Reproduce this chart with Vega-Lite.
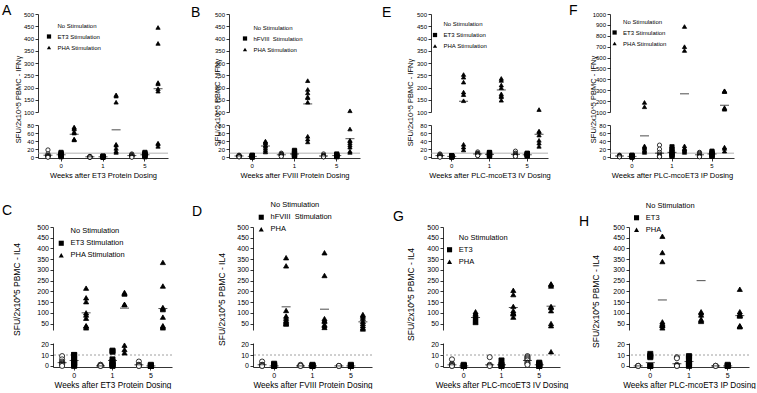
{
"$schema":"https://vega.github.io/schema/vega-lite/v6.json",
"padding":{"left":2,"top":4,"right":0,"bottom":0},
"config":{
 "font":"Liberation Sans",
 "view":{"stroke":null},
 "axis":{"domainColor":"black","domainWidth":0.8,"tickColor":"black","tickWidth":0.8,"tickSize":3,"labelColor":"black","labelFontSize":6,"labelPadding":1.5,"labelOverlap":false,"titleColor":"black","titleFontSize":7.5,"titleFontWeight":"normal","grid":false,"format":"d"},
 "axisX":{"labelAngle":0,"titlePadding":3},
 "legend":{"title":null,"padding":0,"labelFontSize":6,"labelColor":"black","symbolStrokeColor":"black","symbolStrokeWidth":0.8,"symbolSize":18,"rowPadding":3,"labelOffset":5.5},
 "title":{"fontSize":14,"fontWeight":"normal","anchor":"start","frame":"group","baseline":"top","offset":0,"color":"black"}
},
"datasets":{
"pts":[
{"p":"A","w":0,"g":"n","v":18},{"p":"A","w":0,"g":"n","v":8},{"p":"A","w":0,"g":"n","v":5},{"p":"A","w":0,"g":"n","v":4},{"p":"A","w":0,"g":"n","v":3},{"p":"A","w":0,"g":"n","v":2},{"p":"A","w":0,"g":"n","v":1},{"p":"A","w":0,"g":"n","v":0},
{"p":"A","w":0,"g":"a","v":12},{"p":"A","w":0,"g":"a","v":10},{"p":"A","w":0,"g":"a","v":8},{"p":"A","w":0,"g":"a","v":6},{"p":"A","w":0,"g":"a","v":5},{"p":"A","w":0,"g":"a","v":4},{"p":"A","w":0,"g":"a","v":2},{"p":"A","w":0,"g":"a","v":1},
{"p":"A","w":0,"g":"h","v":75},{"p":"A","w":0,"g":"h","v":72},{"p":"A","w":0,"g":"h","v":70},{"p":"A","w":0,"g":"h","v":63},{"p":"A","w":0,"g":"h","v":60},{"p":"A","w":0,"g":"h","v":45},{"p":"A","w":0,"g":"h","v":44},{"p":"A","w":0,"g":"h","v":43},
{"p":"A","w":1,"g":"n","v":2},{"p":"A","w":1,"g":"n","v":1},{"p":"A","w":1,"g":"n","v":1},{"p":"A","w":1,"g":"n","v":0},{"p":"A","w":1,"g":"n","v":0},{"p":"A","w":1,"g":"n","v":0},
{"p":"A","w":1,"g":"a","v":3},{"p":"A","w":1,"g":"a","v":2},{"p":"A","w":1,"g":"a","v":1},{"p":"A","w":1,"g":"a","v":1},{"p":"A","w":1,"g":"a","v":0},{"p":"A","w":1,"g":"a","v":0},
{"p":"A","w":1,"g":"h","v":170},{"p":"A","w":1,"g":"h","v":165},{"p":"A","w":1,"g":"h","v":140},{"p":"A","w":1,"g":"h","v":32},{"p":"A","w":1,"g":"h","v":30},{"p":"A","w":1,"g":"h","v":22},{"p":"A","w":1,"g":"h","v":15},{"p":"A","w":1,"g":"h","v":12},
{"p":"A","w":5,"g":"n","v":8},{"p":"A","w":5,"g":"n","v":6},{"p":"A","w":5,"g":"n","v":5},{"p":"A","w":5,"g":"n","v":4},{"p":"A","w":5,"g":"n","v":3},{"p":"A","w":5,"g":"n","v":2},{"p":"A","w":5,"g":"n","v":1},{"p":"A","w":5,"g":"n","v":0},
{"p":"A","w":5,"g":"a","v":12},{"p":"A","w":5,"g":"a","v":10},{"p":"A","w":5,"g":"a","v":8},{"p":"A","w":5,"g":"a","v":7},{"p":"A","w":5,"g":"a","v":5},{"p":"A","w":5,"g":"a","v":4},{"p":"A","w":5,"g":"a","v":3},{"p":"A","w":5,"g":"a","v":1},
{"p":"A","w":5,"g":"h","v":445},{"p":"A","w":5,"g":"h","v":380},{"p":"A","w":5,"g":"h","v":220},{"p":"A","w":5,"g":"h","v":215},{"p":"A","w":5,"g":"h","v":195},{"p":"A","w":5,"g":"h","v":185},{"p":"A","w":5,"g":"h","v":35},{"p":"A","w":5,"g":"h","v":33},{"p":"A","w":5,"g":"h","v":27},
{"p":"B","w":0,"g":"n","v":5},{"p":"B","w":0,"g":"n","v":4},{"p":"B","w":0,"g":"n","v":3},{"p":"B","w":0,"g":"n","v":3},{"p":"B","w":0,"g":"n","v":2},{"p":"B","w":0,"g":"n","v":2},{"p":"B","w":0,"g":"n","v":1},{"p":"B","w":0,"g":"n","v":1},
{"p":"B","w":0,"g":"a","v":5},{"p":"B","w":0,"g":"a","v":4},{"p":"B","w":0,"g":"a","v":3},{"p":"B","w":0,"g":"a","v":3},{"p":"B","w":0,"g":"a","v":2},{"p":"B","w":0,"g":"a","v":1},{"p":"B","w":0,"g":"a","v":1},{"p":"B","w":0,"g":"a","v":0},
{"p":"B","w":0,"g":"h","v":40},{"p":"B","w":0,"g":"h","v":38},{"p":"B","w":0,"g":"h","v":35},{"p":"B","w":0,"g":"h","v":30},{"p":"B","w":0,"g":"h","v":27},{"p":"B","w":0,"g":"h","v":22},{"p":"B","w":0,"g":"h","v":17},{"p":"B","w":0,"g":"h","v":13},
{"p":"B","w":1,"g":"n","v":10},{"p":"B","w":1,"g":"n","v":8},{"p":"B","w":1,"g":"n","v":7},{"p":"B","w":1,"g":"n","v":6},{"p":"B","w":1,"g":"n","v":5},{"p":"B","w":1,"g":"n","v":4},{"p":"B","w":1,"g":"n","v":3},{"p":"B","w":1,"g":"n","v":2},
{"p":"B","w":1,"g":"a","v":17},{"p":"B","w":1,"g":"a","v":15},{"p":"B","w":1,"g":"a","v":10},{"p":"B","w":1,"g":"a","v":8},{"p":"B","w":1,"g":"a","v":6},{"p":"B","w":1,"g":"a","v":5},{"p":"B","w":1,"g":"a","v":3},{"p":"B","w":1,"g":"a","v":2},
{"p":"B","w":1,"g":"h","v":228},{"p":"B","w":1,"g":"h","v":192},{"p":"B","w":1,"g":"h","v":178},{"p":"B","w":1,"g":"h","v":162},{"p":"B","w":1,"g":"h","v":158},{"p":"B","w":1,"g":"h","v":140},{"p":"B","w":1,"g":"h","v":52},{"p":"B","w":1,"g":"h","v":45},{"p":"B","w":1,"g":"h","v":38},
{"p":"B","w":5,"g":"n","v":8},{"p":"B","w":5,"g":"n","v":5},{"p":"B","w":5,"g":"n","v":4},{"p":"B","w":5,"g":"n","v":3},{"p":"B","w":5,"g":"n","v":2},{"p":"B","w":5,"g":"n","v":2},{"p":"B","w":5,"g":"n","v":1},{"p":"B","w":5,"g":"n","v":1},
{"p":"B","w":5,"g":"a","v":8},{"p":"B","w":5,"g":"a","v":6},{"p":"B","w":5,"g":"a","v":5},{"p":"B","w":5,"g":"a","v":4},{"p":"B","w":5,"g":"a","v":3},{"p":"B","w":5,"g":"a","v":2},{"p":"B","w":5,"g":"a","v":2},{"p":"B","w":5,"g":"a","v":1},
{"p":"B","w":5,"g":"h","v":105},{"p":"B","w":5,"g":"h","v":70},{"p":"B","w":5,"g":"h","v":42},{"p":"B","w":5,"g":"h","v":40},{"p":"B","w":5,"g":"h","v":35},{"p":"B","w":5,"g":"h","v":30},{"p":"B","w":5,"g":"h","v":25},{"p":"B","w":5,"g":"h","v":15},{"p":"B","w":5,"g":"h","v":12},
{"p":"E","w":0,"g":"n","v":8},{"p":"E","w":0,"g":"n","v":6},{"p":"E","w":0,"g":"n","v":5},{"p":"E","w":0,"g":"n","v":4},{"p":"E","w":0,"g":"n","v":3},{"p":"E","w":0,"g":"n","v":2},{"p":"E","w":0,"g":"n","v":1},{"p":"E","w":0,"g":"n","v":0},
{"p":"E","w":0,"g":"a","v":4},{"p":"E","w":0,"g":"a","v":3},{"p":"E","w":0,"g":"a","v":3},{"p":"E","w":0,"g":"a","v":2},{"p":"E","w":0,"g":"a","v":2},{"p":"E","w":0,"g":"a","v":1},{"p":"E","w":0,"g":"a","v":1},{"p":"E","w":0,"g":"a","v":0},
{"p":"E","w":0,"g":"h","v":253},{"p":"E","w":0,"g":"h","v":242},{"p":"E","w":0,"g":"h","v":222},{"p":"E","w":0,"g":"h","v":181},{"p":"E","w":0,"g":"h","v":171},{"p":"E","w":0,"g":"h","v":146},{"p":"E","w":0,"g":"h","v":32},{"p":"E","w":0,"g":"h","v":25},{"p":"E","w":0,"g":"h","v":18},
{"p":"E","w":1,"g":"n","v":13},{"p":"E","w":1,"g":"n","v":10},{"p":"E","w":1,"g":"n","v":9},{"p":"E","w":1,"g":"n","v":8},{"p":"E","w":1,"g":"n","v":7},{"p":"E","w":1,"g":"n","v":6},{"p":"E","w":1,"g":"n","v":5},{"p":"E","w":1,"g":"n","v":4},
{"p":"E","w":1,"g":"a","v":12},{"p":"E","w":1,"g":"a","v":11},{"p":"E","w":1,"g":"a","v":10},{"p":"E","w":1,"g":"a","v":8},{"p":"E","w":1,"g":"a","v":6},{"p":"E","w":1,"g":"a","v":5},{"p":"E","w":1,"g":"a","v":3},{"p":"E","w":1,"g":"a","v":2},
{"p":"E","w":1,"g":"h","v":237},{"p":"E","w":1,"g":"h","v":229},{"p":"E","w":1,"g":"h","v":210},{"p":"E","w":1,"g":"h","v":199},{"p":"E","w":1,"g":"h","v":174},{"p":"E","w":1,"g":"h","v":167},{"p":"E","w":1,"g":"h","v":162},{"p":"E","w":1,"g":"h","v":148},
{"p":"E","w":5,"g":"n","v":15},{"p":"E","w":5,"g":"n","v":10},{"p":"E","w":5,"g":"n","v":8},{"p":"E","w":5,"g":"n","v":6},{"p":"E","w":5,"g":"n","v":5},{"p":"E","w":5,"g":"n","v":4},{"p":"E","w":5,"g":"n","v":3},{"p":"E","w":5,"g":"n","v":2},
{"p":"E","w":5,"g":"a","v":10},{"p":"E","w":5,"g":"a","v":9},{"p":"E","w":5,"g":"a","v":8},{"p":"E","w":5,"g":"a","v":7},{"p":"E","w":5,"g":"a","v":6},{"p":"E","w":5,"g":"a","v":5},{"p":"E","w":5,"g":"a","v":4},{"p":"E","w":5,"g":"a","v":3},
{"p":"E","w":5,"g":"h","v":110},{"p":"E","w":5,"g":"h","v":65},{"p":"E","w":5,"g":"h","v":63},{"p":"E","w":5,"g":"h","v":55},{"p":"E","w":5,"g":"h","v":42},{"p":"E","w":5,"g":"h","v":35},{"p":"E","w":5,"g":"h","v":27},
{"p":"F","w":0,"g":"n","v":5},{"p":"F","w":0,"g":"n","v":4},{"p":"F","w":0,"g":"n","v":3},{"p":"F","w":0,"g":"n","v":3},{"p":"F","w":0,"g":"n","v":2},{"p":"F","w":0,"g":"n","v":2},{"p":"F","w":0,"g":"n","v":1},{"p":"F","w":0,"g":"n","v":1},
{"p":"F","w":0,"g":"a","v":5},{"p":"F","w":0,"g":"a","v":4},{"p":"F","w":0,"g":"a","v":3},{"p":"F","w":0,"g":"a","v":2},{"p":"F","w":0,"g":"a","v":2},{"p":"F","w":0,"g":"a","v":1},{"p":"F","w":0,"g":"a","v":1},{"p":"F","w":0,"g":"a","v":0},
{"p":"F","w":0,"g":"h","v":188},{"p":"F","w":0,"g":"h","v":148},{"p":"F","w":0,"g":"h","v":28},{"p":"F","w":0,"g":"h","v":25},{"p":"F","w":0,"g":"h","v":22},{"p":"F","w":0,"g":"h","v":18},{"p":"F","w":0,"g":"h","v":15},{"p":"F","w":0,"g":"h","v":12},
{"p":"F","w":1,"g":"n","v":30},{"p":"F","w":1,"g":"n","v":20},{"p":"F","w":1,"g":"n","v":12},{"p":"F","w":1,"g":"n","v":8},{"p":"F","w":1,"g":"n","v":5},{"p":"F","w":1,"g":"n","v":3},{"p":"F","w":1,"g":"n","v":2},{"p":"F","w":1,"g":"n","v":1},
{"p":"F","w":1,"g":"a","v":26},{"p":"F","w":1,"g":"a","v":20},{"p":"F","w":1,"g":"a","v":15},{"p":"F","w":1,"g":"a","v":12},{"p":"F","w":1,"g":"a","v":8},{"p":"F","w":1,"g":"a","v":6},{"p":"F","w":1,"g":"a","v":4},{"p":"F","w":1,"g":"a","v":2},
{"p":"F","w":1,"g":"h","v":885},{"p":"F","w":1,"g":"h","v":700},{"p":"F","w":1,"g":"h","v":665},{"p":"F","w":1,"g":"h","v":28},{"p":"F","w":1,"g":"h","v":22},{"p":"F","w":1,"g":"h","v":20},{"p":"F","w":1,"g":"h","v":18},{"p":"F","w":1,"g":"h","v":15},{"p":"F","w":1,"g":"h","v":12},
{"p":"F","w":5,"g":"n","v":12},{"p":"F","w":5,"g":"n","v":10},{"p":"F","w":5,"g":"n","v":8},{"p":"F","w":5,"g":"n","v":6},{"p":"F","w":5,"g":"n","v":4},{"p":"F","w":5,"g":"n","v":3},{"p":"F","w":5,"g":"n","v":2},{"p":"F","w":5,"g":"n","v":1},
{"p":"F","w":5,"g":"a","v":15},{"p":"F","w":5,"g":"a","v":12},{"p":"F","w":5,"g":"a","v":10},{"p":"F","w":5,"g":"a","v":8},{"p":"F","w":5,"g":"a","v":6},{"p":"F","w":5,"g":"a","v":4},{"p":"F","w":5,"g":"a","v":3},{"p":"F","w":5,"g":"a","v":2},
{"p":"F","w":5,"g":"h","v":295},{"p":"F","w":5,"g":"h","v":293},{"p":"F","w":5,"g":"h","v":290},{"p":"F","w":5,"g":"h","v":288},{"p":"F","w":5,"g":"h","v":140},{"p":"F","w":5,"g":"h","v":132},{"p":"F","w":5,"g":"h","v":125},{"p":"F","w":5,"g":"h","v":25},{"p":"F","w":5,"g":"h","v":22},{"p":"F","w":5,"g":"h","v":15},
{"p":"C","w":0,"g":"n","v":9},{"p":"C","w":0,"g":"n","v":6},{"p":"C","w":0,"g":"n","v":4},{"p":"C","w":0,"g":"n","v":3},{"p":"C","w":0,"g":"n","v":2},{"p":"C","w":0,"g":"n","v":2},{"p":"C","w":0,"g":"n","v":1},{"p":"C","w":0,"g":"n","v":0},
{"p":"C","w":0,"g":"a","v":10},{"p":"C","w":0,"g":"a","v":10},{"p":"C","w":0,"g":"a","v":6},{"p":"C","w":0,"g":"a","v":5},{"p":"C","w":0,"g":"a","v":3},{"p":"C","w":0,"g":"a","v":2},{"p":"C","w":0,"g":"a","v":1},{"p":"C","w":0,"g":"a","v":0},
{"p":"C","w":0,"g":"h","v":215},{"p":"C","w":0,"g":"h","v":170},{"p":"C","w":0,"g":"h","v":152},{"p":"C","w":0,"g":"h","v":100},{"p":"C","w":0,"g":"h","v":90},{"p":"C","w":0,"g":"h","v":75},{"p":"C","w":0,"g":"h","v":40},{"p":"C","w":0,"g":"h","v":38},{"p":"C","w":0,"g":"h","v":30},
{"p":"C","w":1,"g":"n","v":1},{"p":"C","w":1,"g":"n","v":1},{"p":"C","w":1,"g":"n","v":0},{"p":"C","w":1,"g":"n","v":0},{"p":"C","w":1,"g":"n","v":0},
{"p":"C","w":1,"g":"a","v":14},{"p":"C","w":1,"g":"a","v":13},{"p":"C","w":1,"g":"a","v":6},{"p":"C","w":1,"g":"a","v":4},{"p":"C","w":1,"g":"a","v":2},{"p":"C","w":1,"g":"a","v":1},{"p":"C","w":1,"g":"a","v":1},{"p":"C","w":1,"g":"a","v":0},
{"p":"C","w":1,"g":"h","v":195},{"p":"C","w":1,"g":"h","v":190},{"p":"C","w":1,"g":"h","v":188},{"p":"C","w":1,"g":"h","v":140},{"p":"C","w":1,"g":"h","v":138},{"p":"C","w":1,"g":"h","v":19},{"p":"C","w":1,"g":"h","v":15},{"p":"C","w":1,"g":"h","v":12},
{"p":"C","w":5,"g":"n","v":4},{"p":"C","w":5,"g":"n","v":1},{"p":"C","w":5,"g":"n","v":1},{"p":"C","w":5,"g":"n","v":0},{"p":"C","w":5,"g":"n","v":0},
{"p":"C","w":5,"g":"a","v":1},{"p":"C","w":5,"g":"a","v":0},{"p":"C","w":5,"g":"a","v":0},{"p":"C","w":5,"g":"a","v":0},
{"p":"C","w":5,"g":"h","v":335},{"p":"C","w":5,"g":"h","v":225},{"p":"C","w":5,"g":"h","v":125},{"p":"C","w":5,"g":"h","v":120},{"p":"C","w":5,"g":"h","v":115},{"p":"C","w":5,"g":"h","v":80},{"p":"C","w":5,"g":"h","v":40},{"p":"C","w":5,"g":"h","v":35},{"p":"C","w":5,"g":"h","v":30},
{"p":"D","w":0,"g":"n","v":4},{"p":"D","w":0,"g":"n","v":1},{"p":"D","w":0,"g":"n","v":1},{"p":"D","w":0,"g":"n","v":0},{"p":"D","w":0,"g":"n","v":0},
{"p":"D","w":0,"g":"a","v":2},{"p":"D","w":0,"g":"a","v":1},{"p":"D","w":0,"g":"a","v":0},{"p":"D","w":0,"g":"a","v":0},
{"p":"D","w":0,"g":"h","v":357},{"p":"D","w":0,"g":"h","v":319},{"p":"D","w":0,"g":"h","v":111},{"p":"D","w":0,"g":"h","v":85},{"p":"D","w":0,"g":"h","v":75},{"p":"D","w":0,"g":"h","v":65},{"p":"D","w":0,"g":"h","v":60},{"p":"D","w":0,"g":"h","v":55},{"p":"D","w":0,"g":"h","v":50},{"p":"D","w":0,"g":"h","v":48},
{"p":"D","w":1,"g":"n","v":1},{"p":"D","w":1,"g":"n","v":0},{"p":"D","w":1,"g":"n","v":0},{"p":"D","w":1,"g":"n","v":0},
{"p":"D","w":1,"g":"a","v":1},{"p":"D","w":1,"g":"a","v":0},{"p":"D","w":1,"g":"a","v":0},{"p":"D","w":1,"g":"a","v":0},
{"p":"D","w":1,"g":"h","v":380},{"p":"D","w":1,"g":"h","v":274},{"p":"D","w":1,"g":"h","v":73},{"p":"D","w":1,"g":"h","v":65},{"p":"D","w":1,"g":"h","v":60},{"p":"D","w":1,"g":"h","v":45},{"p":"D","w":1,"g":"h","v":40},{"p":"D","w":1,"g":"h","v":32},
{"p":"D","w":5,"g":"n","v":0},{"p":"D","w":5,"g":"n","v":0},{"p":"D","w":5,"g":"n","v":0},
{"p":"D","w":5,"g":"a","v":1},{"p":"D","w":5,"g":"a","v":0},{"p":"D","w":5,"g":"a","v":0},
{"p":"D","w":5,"g":"h","v":92},{"p":"D","w":5,"g":"h","v":85},{"p":"D","w":5,"g":"h","v":75},{"p":"D","w":5,"g":"h","v":60},{"p":"D","w":5,"g":"h","v":50},{"p":"D","w":5,"g":"h","v":40},{"p":"D","w":5,"g":"h","v":30},{"p":"D","w":5,"g":"h","v":25},
{"p":"G","w":0,"g":"n","v":6},{"p":"G","w":0,"g":"n","v":2},{"p":"G","w":0,"g":"n","v":1},{"p":"G","w":0,"g":"n","v":1},{"p":"G","w":0,"g":"n","v":0},{"p":"G","w":0,"g":"n","v":0},
{"p":"G","w":0,"g":"a","v":1},{"p":"G","w":0,"g":"a","v":0},{"p":"G","w":0,"g":"a","v":0},{"p":"G","w":0,"g":"a","v":0},
{"p":"G","w":0,"g":"h","v":105},{"p":"G","w":0,"g":"h","v":98},{"p":"G","w":0,"g":"h","v":92},{"p":"G","w":0,"g":"h","v":85},{"p":"G","w":0,"g":"h","v":80},{"p":"G","w":0,"g":"h","v":75},{"p":"G","w":0,"g":"h","v":70},{"p":"G","w":0,"g":"h","v":65},{"p":"G","w":0,"g":"h","v":60},{"p":"G","w":0,"g":"h","v":55},
{"p":"G","w":1,"g":"n","v":8},{"p":"G","w":1,"g":"n","v":1},{"p":"G","w":1,"g":"n","v":0},{"p":"G","w":1,"g":"n","v":0},
{"p":"G","w":1,"g":"a","v":5},{"p":"G","w":1,"g":"a","v":1},{"p":"G","w":1,"g":"a","v":0},{"p":"G","w":1,"g":"a","v":0},
{"p":"G","w":1,"g":"h","v":205},{"p":"G","w":1,"g":"h","v":185},{"p":"G","w":1,"g":"h","v":130},{"p":"G","w":1,"g":"h","v":110},{"p":"G","w":1,"g":"h","v":100},{"p":"G","w":1,"g":"h","v":98},{"p":"G","w":1,"g":"h","v":95},{"p":"G","w":1,"g":"h","v":80},
{"p":"G","w":5,"g":"n","v":9},{"p":"G","w":5,"g":"n","v":8},{"p":"G","w":5,"g":"n","v":7},{"p":"G","w":5,"g":"n","v":6},{"p":"G","w":5,"g":"n","v":5},{"p":"G","w":5,"g":"n","v":3},{"p":"G","w":5,"g":"n","v":2},{"p":"G","w":5,"g":"n","v":1},
{"p":"G","w":5,"g":"a","v":3},{"p":"G","w":5,"g":"a","v":2},{"p":"G","w":5,"g":"a","v":1},{"p":"G","w":5,"g":"a","v":1},{"p":"G","w":5,"g":"a","v":0},{"p":"G","w":5,"g":"a","v":0},
{"p":"G","w":5,"g":"h","v":235},{"p":"G","w":5,"g":"h","v":232},{"p":"G","w":5,"g":"h","v":225},{"p":"G","w":5,"g":"h","v":130},{"p":"G","w":5,"g":"h","v":125},{"p":"G","w":5,"g":"h","v":110},{"p":"G","w":5,"g":"h","v":50},{"p":"G","w":5,"g":"h","v":40},{"p":"G","w":5,"g":"h","v":13},
{"p":"H","w":0,"g":"n","v":0},{"p":"H","w":0,"g":"n","v":0},{"p":"H","w":0,"g":"n","v":0},
{"p":"H","w":0,"g":"a","v":11},{"p":"H","w":0,"g":"a","v":9},{"p":"H","w":0,"g":"a","v":8},{"p":"H","w":0,"g":"a","v":0},{"p":"H","w":0,"g":"a","v":0},
{"p":"H","w":0,"g":"h","v":457},{"p":"H","w":0,"g":"h","v":381},{"p":"H","w":0,"g":"h","v":339},{"p":"H","w":0,"g":"h","v":58},{"p":"H","w":0,"g":"h","v":50},{"p":"H","w":0,"g":"h","v":45},{"p":"H","w":0,"g":"h","v":42},{"p":"H","w":0,"g":"h","v":40},{"p":"H","w":0,"g":"h","v":30},
{"p":"H","w":1,"g":"n","v":8},{"p":"H","w":1,"g":"n","v":7},{"p":"H","w":1,"g":"n","v":1},{"p":"H","w":1,"g":"n","v":0},{"p":"H","w":1,"g":"n","v":0},
{"p":"H","w":1,"g":"a","v":9},{"p":"H","w":1,"g":"a","v":8},{"p":"H","w":1,"g":"a","v":7},{"p":"H","w":1,"g":"a","v":3},{"p":"H","w":1,"g":"a","v":2},{"p":"H","w":1,"g":"a","v":1},{"p":"H","w":1,"g":"a","v":0},
{"p":"H","w":1,"g":"h","v":105},{"p":"H","w":1,"g":"h","v":100},{"p":"H","w":1,"g":"h","v":90},{"p":"H","w":1,"g":"h","v":70},{"p":"H","w":1,"g":"h","v":65},{"p":"H","w":1,"g":"h","v":60},
{"p":"H","w":5,"g":"n","v":0},{"p":"H","w":5,"g":"n","v":0},{"p":"H","w":5,"g":"n","v":0},
{"p":"H","w":5,"g":"a","v":1},{"p":"H","w":5,"g":"a","v":0},{"p":"H","w":5,"g":"a","v":0},
{"p":"H","w":5,"g":"h","v":210},{"p":"H","w":5,"g":"h","v":105},{"p":"H","w":5,"g":"h","v":95},{"p":"H","w":5,"g":"h","v":90},{"p":"H","w":5,"g":"h","v":88},{"p":"H","w":5,"g":"h","v":85},{"p":"H","w":5,"g":"h","v":40},{"p":"H","w":5,"g":"h","v":38},{"p":"H","w":5,"g":"h","v":35}
],
"mean":[
{"p":"A","w":0,"g":"n","v":5},{"p":"A","w":0,"g":"a","v":6},{"p":"A","w":0,"g":"h","v":57},{"p":"A","w":1,"g":"n","v":1},{"p":"A","w":1,"g":"a","v":1},{"p":"A","w":1,"g":"h","v":68},{"p":"A","w":5,"g":"n","v":4},{"p":"A","w":5,"g":"a","v":6},{"p":"A","w":5,"g":"h","v":195},
{"p":"B","w":0,"g":"n","v":3},{"p":"B","w":0,"g":"a","v":2},{"p":"B","w":0,"g":"h","v":28},{"p":"B","w":1,"g":"n","v":6},{"p":"B","w":1,"g":"a","v":8},{"p":"B","w":1,"g":"h","v":133},{"p":"B","w":5,"g":"n","v":3},{"p":"B","w":5,"g":"a","v":4},{"p":"B","w":5,"g":"h","v":46},
{"p":"E","w":0,"g":"n","v":4},{"p":"E","w":0,"g":"a","v":2},{"p":"E","w":0,"g":"h","v":144},{"p":"E","w":1,"g":"n","v":8},{"p":"E","w":1,"g":"a","v":7},{"p":"E","w":1,"g":"h","v":190},{"p":"E","w":5,"g":"n","v":7},{"p":"E","w":5,"g":"a","v":6},{"p":"E","w":5,"g":"h","v":57},
{"p":"F","w":0,"g":"n","v":3},{"p":"F","w":0,"g":"a","v":2},{"p":"F","w":0,"g":"h","v":53},{"p":"F","w":1,"g":"n","v":10},{"p":"F","w":1,"g":"a","v":12},{"p":"F","w":1,"g":"h","v":267},{"p":"F","w":5,"g":"n","v":6},{"p":"F","w":5,"g":"a","v":8},{"p":"F","w":5,"g":"h","v":162},
{"p":"C","w":0,"g":"n","v":3},{"p":"C","w":0,"g":"a","v":5},{"p":"C","w":0,"g":"h","v":100},{"p":"C","w":1,"g":"n","v":0},{"p":"C","w":1,"g":"a","v":5},{"p":"C","w":1,"g":"h","v":122},{"p":"C","w":5,"g":"n","v":1},{"p":"C","w":5,"g":"a","v":0},{"p":"C","w":5,"g":"h","v":120},
{"p":"D","w":0,"g":"n","v":1},{"p":"D","w":0,"g":"a","v":0},{"p":"D","w":0,"g":"h","v":128},{"p":"D","w":1,"g":"n","v":0},{"p":"D","w":1,"g":"a","v":0},{"p":"D","w":1,"g":"h","v":117},{"p":"D","w":5,"g":"n","v":0},{"p":"D","w":5,"g":"a","v":0},{"p":"D","w":5,"g":"h","v":58},
{"p":"G","w":0,"g":"n","v":1},{"p":"G","w":0,"g":"a","v":0},{"p":"G","w":0,"g":"h","v":78},{"p":"G","w":1,"g":"n","v":1},{"p":"G","w":1,"g":"a","v":1},{"p":"G","w":1,"g":"h","v":125},{"p":"G","w":5,"g":"n","v":5},{"p":"G","w":5,"g":"a","v":1},{"p":"G","w":5,"g":"h","v":131},
{"p":"H","w":0,"g":"n","v":0},{"p":"H","w":0,"g":"a","v":3},{"p":"H","w":0,"g":"h","v":160},{"p":"H","w":1,"g":"n","v":2},{"p":"H","w":1,"g":"a","v":4},{"p":"H","w":1,"g":"h","v":250},{"p":"H","w":5,"g":"n","v":0},{"p":"H","w":5,"g":"a","v":0},{"p":"H","w":5,"g":"h","v":87}
]
},
"spacing":22,
"resolve":{"scale":{"shape":"independent","fill":"independent","xOffset":"independent"},"legend":{"shape":"independent","fill":"independent"}},
"vconcat":[
{"columns":8,"align":"each","bounds":"flush","spacing":{"row":13,"column":0},
"resolve":{"scale":{"shape":"independent","fill":"independent","xOffset":"independent"},"legend":{"shape":"independent","fill":"independent"}},
"concat":[
{"width":1,"height":98,"data":{"values":[]},"mark":"point"},
{"width":130,"height":98,"title":{"text":"A","dx":-36,"dy":11},"layer":[
 {"data":{"name":"pts"},"transform":[{"filter":"datum.p=='A'&&datum.v>=90"}],"mark":{"type":"point","filled":true,"stroke":"black","strokeWidth":0.8,"size":18,"opacity":1},
  "encoding":{"x":{"field":"w","type":"ordinal","scale":{"domain":[0,1,5],"paddingInner":0,"paddingOuter":0.05},"axis":null},
   "xOffset":{"field":"g","type":"nominal","scale":{"domain":["n","a","h"],"paddingOuter":0.1}},
   "y":{"field":"v","type":"quantitative","scale":{"domain":[100,500],"nice":false,"zero":false},"axis":{"values":[100,150,200,250,300,350,400,450,500],"labelOverlap":false,"title":"SFU/2x10^5 PBMC - IFNγ","titleX":-16,"titleY":85}},
   "shape":{"field":"g","type":"nominal","scale":{"domain":["n","a","h"],"range":["circle","square","triangle-up"]},"legend":{"orient":"none","legendX":8,"legendY":8.5,"labelExpr":"datum.label=='n'?'No Stimulation':datum.label=='a'?'ET3 Stimulation':'PHA Stimulation'"}},
   "fill":{"field":"g","type":"nominal","scale":{"domain":["n","a","h"],"range":["white","black","black"]},"legend":{"orient":"none","legendX":8,"legendY":8.5,"labelExpr":"datum.label=='n'?'No Stimulation':datum.label=='a'?'ET3 Stimulation':'PHA Stimulation'"}}}},
 {"data":{"name":"mean"},"transform":[{"filter":"datum.p=='A'&&datum.v>=90"}],"mark":{"type":"tick","color":"black","thickness":1,"size":9},
  "encoding":{"x":{"field":"w","type":"ordinal","scale":{"domain":[0,1,5],"paddingInner":0,"paddingOuter":0.05},"axis":null},"xOffset":{"field":"g","type":"nominal","scale":{"domain":["n","a","h"],"paddingOuter":0.1}},"y":{"field":"v","type":"quantitative","scale":{"domain":[100,500],"nice":false,"zero":false},"axis":{"values":[100,150,200,250,300,350,400,450,500],"labelOverlap":false,"title":"SFU/2x10^5 PBMC - IFNγ","titleX":-16,"titleY":85}}}}
]},
{"width":61,"height":98,"data":{"values":[]},"mark":"point"},
{"width":131,"height":98,"title":{"text":"B","dx":-38,"dy":13},"layer":[
 {"data":{"name":"pts"},"transform":[{"filter":"datum.p=='B'&&datum.v>=90"}],"mark":{"type":"point","filled":true,"stroke":"black","strokeWidth":0.8,"size":18,"opacity":1},
  "encoding":{"x":{"field":"w","type":"ordinal","scale":{"domain":[0,1,5],"paddingInner":0,"paddingOuter":0.05},"axis":null},
   "xOffset":{"field":"g","type":"nominal","scale":{"domain":["n","a","h"],"paddingOuter":0.1}},
   "y":{"field":"v","type":"quantitative","scale":{"domain":[100,500],"nice":false,"zero":false},"axis":{"values":[100,150,200,250,300,350,400,450,500],"labelOverlap":false,"title":"SFU/2x10^5 PBMC - IFNγ","titleX":-8,"titleY":88}},
   "shape":{"field":"g","type":"nominal","scale":{"domain":["n","a","h"],"range":["circle","square","triangle-up"]},"legend":{"orient":"none","legendX":13,"legendY":10.5,"labelExpr":"datum.label=='n'?'No Stimulation':datum.label=='a'?'hFVIII\u00a0 Stimulation':'PHA Stimulation'"}},
   "fill":{"field":"g","type":"nominal","scale":{"domain":["n","a","h"],"range":["white","black","black"]},"legend":{"orient":"none","legendX":13,"legendY":10.5,"labelExpr":"datum.label=='n'?'No Stimulation':datum.label=='a'?'hFVIII\u00a0 Stimulation':'PHA Stimulation'"}}}},
 {"data":{"name":"mean"},"transform":[{"filter":"datum.p=='B'&&datum.v>=90"}],"mark":{"type":"tick","color":"black","thickness":1,"size":9},
  "encoding":{"x":{"field":"w","type":"ordinal","scale":{"domain":[0,1,5],"paddingInner":0,"paddingOuter":0.05},"axis":null},"xOffset":{"field":"g","type":"nominal","scale":{"domain":["n","a","h"],"paddingOuter":0.1}},"y":{"field":"v","type":"quantitative","scale":{"domain":[100,500],"nice":false,"zero":false},"axis":{"values":[100,150,200,250,300,350,400,450,500],"labelOverlap":false,"title":"SFU/2x10^5 PBMC - IFNγ","titleX":-8,"titleY":88}}}}
]},
{"width":71,"height":98,"data":{"values":[]},"mark":"point"},
{"width":117,"height":98,"title":{"text":"E","dx":-49,"dy":13},"layer":[
 {"data":{"name":"pts"},"transform":[{"filter":"datum.p=='E'&&datum.v>=90"}],"mark":{"type":"point","filled":true,"stroke":"black","strokeWidth":0.8,"size":18,"opacity":1},
  "encoding":{"x":{"field":"w","type":"ordinal","scale":{"domain":[0,1,5],"paddingInner":0,"paddingOuter":0.05},"axis":null},
   "xOffset":{"field":"g","type":"nominal","scale":{"domain":["n","a","h"],"paddingOuter":0.1}},
   "y":{"field":"v","type":"quantitative","scale":{"domain":[100,500],"nice":false,"zero":false},"axis":{"values":[100,150,200,250,300,350,400,450,500],"labelOverlap":false,"title":"SFU/2x10^5 PBMC - IFNγ","titleX":-17,"titleY":88}},
   "shape":{"field":"g","type":"nominal","scale":{"domain":["n","a","h"],"range":["circle","square","triangle-up"]},"legend":{"orient":"none","legendX":1,"legendY":7,"labelExpr":"datum.label=='n'?'No Stimulation':datum.label=='a'?'ET3 Stimulation':'PHA Stimulation'"}},
   "fill":{"field":"g","type":"nominal","scale":{"domain":["n","a","h"],"range":["white","black","black"]},"legend":{"orient":"none","legendX":1,"legendY":7,"labelExpr":"datum.label=='n'?'No Stimulation':datum.label=='a'?'ET3 Stimulation':'PHA Stimulation'"}}}},
 {"data":{"name":"mean"},"transform":[{"filter":"datum.p=='E'&&datum.v>=90"}],"mark":{"type":"tick","color":"black","thickness":1,"size":9},
  "encoding":{"x":{"field":"w","type":"ordinal","scale":{"domain":[0,1,5],"paddingInner":0,"paddingOuter":0.05},"axis":null},"xOffset":{"field":"g","type":"nominal","scale":{"domain":["n","a","h"],"paddingOuter":0.1}},"y":{"field":"v","type":"quantitative","scale":{"domain":[100,500],"nice":false,"zero":false},"axis":{"values":[100,150,200,250,300,350,400,450,500],"labelOverlap":false,"title":"SFU/2x10^5 PBMC - IFNγ","titleX":-17,"titleY":88}}}}
]},
{"width":62,"height":98,"data":{"values":[]},"mark":"point"},
{"width":124,"height":98,"title":{"text":"F","dx":-41,"dy":11},"layer":[
 {"data":{"name":"pts"},"transform":[{"filter":"datum.p=='F'&&datum.v>=90"}],"mark":{"type":"point","filled":true,"stroke":"black","strokeWidth":0.8,"size":18,"opacity":1},
  "encoding":{"x":{"field":"w","type":"ordinal","scale":{"domain":[0,1,5],"paddingInner":0,"paddingOuter":0.05},"axis":null},
   "xOffset":{"field":"g","type":"nominal","scale":{"domain":["n","a","h"],"paddingOuter":0.1}},
   "y":{"field":"v","type":"quantitative","scale":{"domain":[100,1000],"nice":false,"zero":false},"axis":{"values":[100,200,300,400,500,600,700,800,900,1000],"labelOverlap":false,"format":"d","title":"SFU/2x10^5 PBMC - IFNγ","titleX":-13,"titleY":85}},
   "shape":{"field":"g","type":"nominal","scale":{"domain":["n","a","h"],"range":["circle","square","triangle-up"]},"legend":{"orient":"none","legendX":1.6,"legendY":4.5,"labelExpr":"datum.label=='n'?'No Stimulation':datum.label=='a'?'ET3 Stimulation':'PHA Stimulation'"}},
   "fill":{"field":"g","type":"nominal","scale":{"domain":["n","a","h"],"range":["white","black","black"]},"legend":{"orient":"none","legendX":1.6,"legendY":4.5,"labelExpr":"datum.label=='n'?'No Stimulation':datum.label=='a'?'ET3 Stimulation':'PHA Stimulation'"}}}},
 {"data":{"name":"mean"},"transform":[{"filter":"datum.p=='F'&&datum.v>=90"}],"mark":{"type":"tick","color":"black","thickness":1,"size":9},
  "encoding":{"x":{"field":"w","type":"ordinal","scale":{"domain":[0,1,5],"paddingInner":0,"paddingOuter":0.05},"axis":null},"xOffset":{"field":"g","type":"nominal","scale":{"domain":["n","a","h"],"paddingOuter":0.1}},"y":{"field":"v","type":"quantitative","scale":{"domain":[100,1000],"nice":false,"zero":false},"axis":{"values":[100,200,300,400,500,600,700,800,900,1000],"labelOverlap":false,"format":"d","title":"SFU/2x10^5 PBMC - IFNγ","titleX":-13,"titleY":85}}}}
]},
{"width":1,"height":33,"data":{"values":[]},"mark":"point"},
{"width":130,"height":33,"layer":[
 {"data":{"values":[{}]},"mark":{"type":"rule","color":"#a0a0a0","strokeWidth":0.8},"encoding":{"y":{"datum":10,"type":"quantitative","scale":{"domain":[-2,80],"nice":false,"zero":false},"axis":{"values":[0,20,40,60,80],"labelOverlap":false,"title":null}}}},
 {"data":{"name":"pts"},"transform":[{"filter":"datum.p=='A'&&datum.v<=85"}],"mark":{"type":"point","filled":true,"stroke":"black","strokeWidth":0.8,"size":18,"opacity":1},
  "encoding":{"x":{"field":"w","type":"ordinal","scale":{"domain":[0,1,5],"paddingInner":0,"paddingOuter":0.05},"axis":{"title":"Weeks after ET3 Protein Dosing"}},
   "xOffset":{"field":"g","type":"nominal","scale":{"domain":["n","a","h"],"paddingOuter":0.1}},
   "y":{"field":"v","type":"quantitative","scale":{"domain":[-2,80],"nice":false,"zero":false},"axis":{"values":[0,20,40,60,80],"labelOverlap":false,"title":null}},
   "shape":{"field":"g","type":"nominal","scale":{"domain":["n","a","h"],"range":["circle","square","triangle-up"]},"legend":null},
   "fill":{"field":"g","type":"nominal","scale":{"domain":["n","a","h"],"range":["white","black","black"]},"legend":null}}},
 {"data":{"name":"mean"},"transform":[{"filter":"datum.p=='A'&&datum.v<=85"}],"mark":{"type":"tick","color":"black","thickness":1,"size":9},
  "encoding":{"x":{"field":"w","type":"ordinal","scale":{"domain":[0,1,5],"paddingInner":0,"paddingOuter":0.05},"axis":{"title":"Weeks after ET3 Protein Dosing"}},"xOffset":{"field":"g","type":"nominal","scale":{"domain":["n","a","h"],"paddingOuter":0.1}},"y":{"field":"v","type":"quantitative","scale":{"domain":[-2,80],"nice":false,"zero":false},"axis":{"values":[0,20,40,60,80],"labelOverlap":false,"title":null}}}}
]},
{"width":61,"height":33,"data":{"values":[]},"mark":"point"},
{"width":131,"height":33,"layer":[
 {"data":{"values":[{}]},"mark":{"type":"rule","color":"#a0a0a0","strokeWidth":0.8},"encoding":{"y":{"datum":10,"type":"quantitative","scale":{"domain":[-2,80],"nice":false,"zero":false},"axis":{"values":[0,20,40,60,80],"labelOverlap":false,"title":null}}}},
 {"data":{"name":"pts"},"transform":[{"filter":"datum.p=='B'&&datum.v<=85"}],"mark":{"type":"point","filled":true,"stroke":"black","strokeWidth":0.8,"size":18,"opacity":1},
  "encoding":{"x":{"field":"w","type":"ordinal","scale":{"domain":[0,1,5],"paddingInner":0,"paddingOuter":0.05},"axis":{"title":"Weeks after FVIII Protein Dosing"}},
   "xOffset":{"field":"g","type":"nominal","scale":{"domain":["n","a","h"],"paddingOuter":0.1}},
   "y":{"field":"v","type":"quantitative","scale":{"domain":[-2,80],"nice":false,"zero":false},"axis":{"values":[0,20,40,60,80],"labelOverlap":false,"title":null}},
   "shape":{"field":"g","type":"nominal","scale":{"domain":["n","a","h"],"range":["circle","square","triangle-up"]},"legend":null},
   "fill":{"field":"g","type":"nominal","scale":{"domain":["n","a","h"],"range":["white","black","black"]},"legend":null}}},
 {"data":{"name":"mean"},"transform":[{"filter":"datum.p=='B'&&datum.v<=85"}],"mark":{"type":"tick","color":"black","thickness":1,"size":9},
  "encoding":{"x":{"field":"w","type":"ordinal","scale":{"domain":[0,1,5],"paddingInner":0,"paddingOuter":0.05},"axis":{"title":"Weeks after FVIII Protein Dosing"}},"xOffset":{"field":"g","type":"nominal","scale":{"domain":["n","a","h"],"paddingOuter":0.1}},"y":{"field":"v","type":"quantitative","scale":{"domain":[-2,80],"nice":false,"zero":false},"axis":{"values":[0,20,40,60,80],"labelOverlap":false,"title":null}}}}
]},
{"width":71,"height":33,"data":{"values":[]},"mark":"point"},
{"width":117,"height":33,"layer":[
 {"data":{"values":[{}]},"mark":{"type":"rule","color":"#a0a0a0","strokeWidth":0.8},"encoding":{"y":{"datum":10,"type":"quantitative","scale":{"domain":[-2,80],"nice":false,"zero":false},"axis":{"values":[0,20,40,60,80],"labelOverlap":false,"title":null}}}},
 {"data":{"name":"pts"},"transform":[{"filter":"datum.p=='E'&&datum.v<=85"}],"mark":{"type":"point","filled":true,"stroke":"black","strokeWidth":0.8,"size":18,"opacity":1},
  "encoding":{"x":{"field":"w","type":"ordinal","scale":{"domain":[0,1,5],"paddingInner":0,"paddingOuter":0.05},"axis":{"title":"Weeks after PLC-mcoET3 IV Dosing"}},
   "xOffset":{"field":"g","type":"nominal","scale":{"domain":["n","a","h"],"paddingOuter":0.1}},
   "y":{"field":"v","type":"quantitative","scale":{"domain":[-2,80],"nice":false,"zero":false},"axis":{"values":[0,20,40,60,80],"labelOverlap":false,"title":null}},
   "shape":{"field":"g","type":"nominal","scale":{"domain":["n","a","h"],"range":["circle","square","triangle-up"]},"legend":null},
   "fill":{"field":"g","type":"nominal","scale":{"domain":["n","a","h"],"range":["white","black","black"]},"legend":null}}},
 {"data":{"name":"mean"},"transform":[{"filter":"datum.p=='E'&&datum.v<=85"}],"mark":{"type":"tick","color":"black","thickness":1,"size":9},
  "encoding":{"x":{"field":"w","type":"ordinal","scale":{"domain":[0,1,5],"paddingInner":0,"paddingOuter":0.05},"axis":{"title":"Weeks after PLC-mcoET3 IV Dosing"}},"xOffset":{"field":"g","type":"nominal","scale":{"domain":["n","a","h"],"paddingOuter":0.1}},"y":{"field":"v","type":"quantitative","scale":{"domain":[-2,80],"nice":false,"zero":false},"axis":{"values":[0,20,40,60,80],"labelOverlap":false,"title":null}}}}
]},
{"width":62,"height":33,"data":{"values":[]},"mark":"point"},
{"width":124,"height":33,"layer":[
 {"data":{"values":[{}]},"mark":{"type":"rule","color":"#a0a0a0","strokeWidth":0.8},"encoding":{"y":{"datum":10,"type":"quantitative","scale":{"domain":[-2,80],"nice":false,"zero":false},"axis":{"values":[0,20,40,60,80],"labelOverlap":false,"title":null}}}},
 {"data":{"name":"pts"},"transform":[{"filter":"datum.p=='F'&&datum.v<=85"}],"mark":{"type":"point","filled":true,"stroke":"black","strokeWidth":0.8,"size":18,"opacity":1},
  "encoding":{"x":{"field":"w","type":"ordinal","scale":{"domain":[0,1,5],"paddingInner":0,"paddingOuter":0.05},"axis":{"title":"Weeks after PLC-mcoET3 IP Dosing"}},
   "xOffset":{"field":"g","type":"nominal","scale":{"domain":["n","a","h"],"paddingOuter":0.1}},
   "y":{"field":"v","type":"quantitative","scale":{"domain":[-2,80],"nice":false,"zero":false},"axis":{"values":[0,20,40,60,80],"labelOverlap":false,"title":null}},
   "shape":{"field":"g","type":"nominal","scale":{"domain":["n","a","h"],"range":["circle","square","triangle-up"]},"legend":null},
   "fill":{"field":"g","type":"nominal","scale":{"domain":["n","a","h"],"range":["white","black","black"]},"legend":null}}},
 {"data":{"name":"mean"},"transform":[{"filter":"datum.p=='F'&&datum.v<=85"}],"mark":{"type":"tick","color":"black","thickness":1,"size":9},
  "encoding":{"x":{"field":"w","type":"ordinal","scale":{"domain":[0,1,5],"paddingInner":0,"paddingOuter":0.05},"axis":{"title":"Weeks after PLC-mcoET3 IP Dosing"}},"xOffset":{"field":"g","type":"nominal","scale":{"domain":["n","a","h"],"paddingOuter":0.1}},"y":{"field":"v","type":"quantitative","scale":{"domain":[-2,80],"nice":false,"zero":false},"axis":{"values":[0,20,40,60,80],"labelOverlap":false,"title":null}}}}
]}
]},
{"columns":8,"align":"each","bounds":"flush","spacing":{"row":13,"column":0},
"resolve":{"scale":{"shape":"independent","fill":"independent","xOffset":"independent"},"legend":{"shape":"independent","fill":"independent"}},
"concat":[
{"width":16,"height":103,"data":{"values":[]},"mark":"point"},
{"width":119,"height":103,"title":{"text":"C","dx":-51,"dy":-1},"layer":[
 {"data":{"name":"pts"},"transform":[{"filter":"datum.p=='C'&&datum.v>=22"}],"mark":{"type":"point","filled":true,"stroke":"black","strokeWidth":0.8,"size":26,"opacity":1},
  "encoding":{"x":{"field":"w","type":"ordinal","scale":{"domain":[0,1,5],"paddingInner":0,"paddingOuter":0.05},"axis":null},
   "xOffset":{"field":"g","type":"nominal","scale":{"domain":["n","a","h"],"paddingOuter":0.1}},
   "y":{"field":"v","type":"quantitative","scale":{"domain":[20,500],"nice":false,"zero":false},"axis":{"values":[50,100,150,200,250,300,350,400,450,500],"labelOverlap":false,"labelFontSize":7,"titleFontSize":8.5,"title":"SFU/2x10^5 PBMC - IL4","titleX":-32,"titleY":62}},
   "shape":{"field":"g","type":"nominal","scale":{"domain":["n","a","h"],"range":["circle","square","triangle-up"]},"legend":{"orient":"none","legendX":4.5,"legendY":0.5,"labelFontSize":7.5,"symbolSize":26,"labelExpr":"datum.label=='n'?'No Stimulation':datum.label=='a'?'ET3 Stimulation':'PHA Stimulation'"}},
   "fill":{"field":"g","type":"nominal","scale":{"domain":["n","a","h"],"range":["white","black","black"]},"legend":{"orient":"none","legendX":4.5,"legendY":0.5,"labelFontSize":7.5,"symbolSize":26,"labelExpr":"datum.label=='n'?'No Stimulation':datum.label=='a'?'ET3 Stimulation':'PHA Stimulation'"}}}},
 {"data":{"name":"mean"},"transform":[{"filter":"datum.p=='C'&&datum.v>=22"}],"mark":{"type":"tick","color":"black","thickness":1,"size":9},
  "encoding":{"x":{"field":"w","type":"ordinal","scale":{"domain":[0,1,5],"paddingInner":0,"paddingOuter":0.05},"axis":null},"xOffset":{"field":"g","type":"nominal","scale":{"domain":["n","a","h"],"paddingOuter":0.1}},"y":{"field":"v","type":"quantitative","scale":{"domain":[20,500],"nice":false,"zero":false},"axis":{"values":[50,100,150,200,250,300,350,400,450,500],"labelOverlap":false,"labelFontSize":7,"titleFontSize":8.5,"title":"SFU/2x10^5 PBMC - IL4","titleX":-32,"titleY":62}}}}
]},
{"width":81,"height":103,"data":{"values":[]},"mark":"point"},
{"width":119,"height":103,"title":{"text":"D","dx":-61,"dy":21},"layer":[
 {"data":{"name":"pts"},"transform":[{"filter":"datum.p=='D'&&datum.v>=22"}],"mark":{"type":"point","filled":true,"stroke":"black","strokeWidth":0.8,"size":26,"opacity":1},
  "encoding":{"x":{"field":"w","type":"ordinal","scale":{"domain":[0,1,5],"paddingInner":0,"paddingOuter":0.05},"axis":null},
   "xOffset":{"field":"g","type":"nominal","scale":{"domain":["n","a","h"],"paddingOuter":0.1}},
   "y":{"field":"v","type":"quantitative","scale":{"domain":[20,500],"nice":false,"zero":false},"axis":{"values":[50,100,150,200,250,300,350,400,450,500],"labelOverlap":false,"labelFontSize":7,"titleFontSize":8.5,"title":"SFU/2x10^5 PBMC - IL4","titleX":-27,"titleY":72}},
   "shape":{"field":"g","type":"nominal","scale":{"domain":["n","a","h"],"range":["circle","square","triangle-up"]},"legend":{"orient":"none","legendX":4.5,"legendY":-25.5,"labelFontSize":7.5,"symbolSize":26,"labelExpr":"datum.label=='n'?'No Stimulation':datum.label=='a'?'hFVIII\u00a0 Stimulation':'PHA'"}},
   "fill":{"field":"g","type":"nominal","scale":{"domain":["n","a","h"],"range":["white","black","black"]},"legend":{"orient":"none","legendX":4.5,"legendY":-25.5,"labelFontSize":7.5,"symbolSize":26,"labelExpr":"datum.label=='n'?'No Stimulation':datum.label=='a'?'hFVIII\u00a0 Stimulation':'PHA'"}}}},
 {"data":{"name":"mean"},"transform":[{"filter":"datum.p=='D'&&datum.v>=22"}],"mark":{"type":"tick","color":"black","thickness":1,"size":9},
  "encoding":{"x":{"field":"w","type":"ordinal","scale":{"domain":[0,1,5],"paddingInner":0,"paddingOuter":0.05},"axis":null},"xOffset":{"field":"g","type":"nominal","scale":{"domain":["n","a","h"],"paddingOuter":0.1}},"y":{"field":"v","type":"quantitative","scale":{"domain":[20,500],"nice":false,"zero":false},"axis":{"values":[50,100,150,200,250,300,350,400,450,500],"labelOverlap":false,"labelFontSize":7,"titleFontSize":8.5,"title":"SFU/2x10^5 PBMC - IL4","titleX":-27,"titleY":72}}}}
]},
{"width":71,"height":103,"data":{"values":[]},"mark":"point"},
{"width":117,"height":103,"title":{"text":"G","dx":-50,"dy":5},"layer":[
 {"data":{"name":"pts"},"transform":[{"filter":"datum.p=='G'&&datum.v>=22"}],"mark":{"type":"point","filled":true,"stroke":"black","strokeWidth":0.8,"size":26,"opacity":1},
  "encoding":{"x":{"field":"w","type":"ordinal","scale":{"domain":[0,1,5],"paddingInner":0,"paddingOuter":0.05},"axis":null},
   "xOffset":{"field":"g","type":"nominal","scale":{"domain":["n","a","h"],"paddingOuter":0.1}},
   "y":{"field":"v","type":"quantitative","scale":{"domain":[20,500],"nice":false,"zero":false},"axis":{"values":[50,100,150,200,250,300,350,400,450,500],"labelOverlap":false,"labelFontSize":7,"titleFontSize":8.5,"title":"SFU/2x10^5 PBMC - IL4","titleX":-28,"titleY":67}},
   "shape":{"field":"g","type":"nominal","scale":{"domain":["n","a","h"],"range":["circle","square","triangle-up"]},"legend":{"orient":"none","legendX":2.8,"legendY":7,"labelFontSize":7.5,"symbolSize":26,"labelExpr":"datum.label=='n'?'No Stimulation':datum.label=='a'?'ET3':'PHA'"}},
   "fill":{"field":"g","type":"nominal","scale":{"domain":["n","a","h"],"range":["white","black","black"]},"legend":{"orient":"none","legendX":2.8,"legendY":7,"labelFontSize":7.5,"symbolSize":26,"labelExpr":"datum.label=='n'?'No Stimulation':datum.label=='a'?'ET3':'PHA'"}}}},
 {"data":{"name":"mean"},"transform":[{"filter":"datum.p=='G'&&datum.v>=22"}],"mark":{"type":"tick","color":"black","thickness":1,"size":9},
  "encoding":{"x":{"field":"w","type":"ordinal","scale":{"domain":[0,1,5],"paddingInner":0,"paddingOuter":0.05},"axis":null},"xOffset":{"field":"g","type":"nominal","scale":{"domain":["n","a","h"],"paddingOuter":0.1}},"y":{"field":"v","type":"quantitative","scale":{"domain":[20,500],"nice":false,"zero":false},"axis":{"values":[50,100,150,200,250,300,350,400,450,500],"labelOverlap":false,"labelFontSize":7,"titleFontSize":8.5,"title":"SFU/2x10^5 PBMC - IL4","titleX":-28,"titleY":67}}}}
]},
{"width":69,"height":103,"data":{"values":[]},"mark":"point"},
{"width":120,"height":103,"title":{"text":"H","dx":-50,"dy":31},"layer":[
 {"data":{"name":"pts"},"transform":[{"filter":"datum.p=='H'&&datum.v>=22"}],"mark":{"type":"point","filled":true,"stroke":"black","strokeWidth":0.8,"size":26,"opacity":1},
  "encoding":{"x":{"field":"w","type":"ordinal","scale":{"domain":[0,1,5],"paddingInner":0,"paddingOuter":0.05},"axis":null},
   "xOffset":{"field":"g","type":"nominal","scale":{"domain":["n","a","h"],"paddingOuter":0.1}},
   "y":{"field":"v","type":"quantitative","scale":{"domain":[20,500],"nice":false,"zero":false},"axis":{"values":[50,100,150,200,250,300,350,400,450,500],"labelOverlap":false,"labelFontSize":7,"titleFontSize":8.5,"title":"SFU/2x10^5 PBMC - IL4","titleX":-29,"titleY":74}},
   "shape":{"field":"g","type":"nominal","scale":{"domain":["n","a","h"],"range":["circle","square","triangle-up"]},"legend":{"orient":"none","legendX":3.8,"legendY":-25,"labelFontSize":7.5,"symbolSize":26,"labelExpr":"datum.label=='n'?'No Stimulation':datum.label=='a'?'ET3':'PHA'"}},
   "fill":{"field":"g","type":"nominal","scale":{"domain":["n","a","h"],"range":["white","black","black"]},"legend":{"orient":"none","legendX":3.8,"legendY":-25,"labelFontSize":7.5,"symbolSize":26,"labelExpr":"datum.label=='n'?'No Stimulation':datum.label=='a'?'ET3':'PHA'"}}}},
 {"data":{"name":"mean"},"transform":[{"filter":"datum.p=='H'&&datum.v>=22"}],"mark":{"type":"tick","color":"black","thickness":1,"size":9},
  "encoding":{"x":{"field":"w","type":"ordinal","scale":{"domain":[0,1,5],"paddingInner":0,"paddingOuter":0.05},"axis":null},"xOffset":{"field":"g","type":"nominal","scale":{"domain":["n","a","h"],"paddingOuter":0.1}},"y":{"field":"v","type":"quantitative","scale":{"domain":[20,500],"nice":false,"zero":false},"axis":{"values":[50,100,150,200,250,300,350,400,450,500],"labelOverlap":false,"labelFontSize":7,"titleFontSize":8.5,"title":"SFU/2x10^5 PBMC - IL4","titleX":-29,"titleY":74}}}}
]},
{"width":16,"height":24,"data":{"values":[]},"mark":"point"},
{"width":119,"height":24,"layer":[
 {"data":{"values":[{}]},"mark":{"type":"rule","color":"#888888","strokeWidth":0.8,"strokeDash":[2,2]},"encoding":{"y":{"datum":10,"type":"quantitative","scale":{"domain":[-1,21],"nice":false,"zero":false},"axis":{"values":[0,10,20],"labelOverlap":false,"labelFontSize":7,"title":null}}}},
 {"data":{"name":"pts"},"transform":[{"filter":"datum.p=='C'&&datum.v<=21"}],"mark":{"type":"point","filled":true,"stroke":"black","strokeWidth":0.8,"size":26,"opacity":1},
  "encoding":{"x":{"field":"w","type":"ordinal","scale":{"domain":[0,1,5],"paddingInner":0,"paddingOuter":0.05},"axis":{"title":"Weeks after ET3 Protein Dosing","labelFontSize":7,"titleFontSize":8.2}},
   "xOffset":{"field":"g","type":"nominal","scale":{"domain":["n","a","h"],"paddingOuter":0.1}},
   "y":{"field":"v","type":"quantitative","scale":{"domain":[-1,21],"nice":false,"zero":false},"axis":{"values":[0,10,20],"labelOverlap":false,"labelFontSize":7,"title":null}},
   "shape":{"field":"g","type":"nominal","scale":{"domain":["n","a","h"],"range":["circle","square","triangle-up"]},"legend":null},
   "fill":{"field":"g","type":"nominal","scale":{"domain":["n","a","h"],"range":["white","black","black"]},"legend":null}}},
 {"data":{"name":"mean"},"transform":[{"filter":"datum.p=='C'&&datum.v<=21"}],"mark":{"type":"tick","color":"black","thickness":1,"size":9},
  "encoding":{"x":{"field":"w","type":"ordinal","scale":{"domain":[0,1,5],"paddingInner":0,"paddingOuter":0.05},"axis":{"title":"Weeks after ET3 Protein Dosing","labelFontSize":7,"titleFontSize":8.2}},"xOffset":{"field":"g","type":"nominal","scale":{"domain":["n","a","h"],"paddingOuter":0.1}},"y":{"field":"v","type":"quantitative","scale":{"domain":[-1,21],"nice":false,"zero":false},"axis":{"values":[0,10,20],"labelOverlap":false,"labelFontSize":7,"title":null}}}}
]},
{"width":81,"height":24,"data":{"values":[]},"mark":"point"},
{"width":119,"height":24,"layer":[
 {"data":{"values":[{}]},"mark":{"type":"rule","color":"#888888","strokeWidth":0.8,"strokeDash":[2,2]},"encoding":{"y":{"datum":10,"type":"quantitative","scale":{"domain":[-1,21],"nice":false,"zero":false},"axis":{"values":[0,10,20],"labelOverlap":false,"labelFontSize":7,"title":null}}}},
 {"data":{"name":"pts"},"transform":[{"filter":"datum.p=='D'&&datum.v<=21"}],"mark":{"type":"point","filled":true,"stroke":"black","strokeWidth":0.8,"size":26,"opacity":1},
  "encoding":{"x":{"field":"w","type":"ordinal","scale":{"domain":[0,1,5],"paddingInner":0,"paddingOuter":0.05},"axis":{"title":"Weeks after FVIII Protein Dosing","labelFontSize":7,"titleFontSize":8.2}},
   "xOffset":{"field":"g","type":"nominal","scale":{"domain":["n","a","h"],"paddingOuter":0.1}},
   "y":{"field":"v","type":"quantitative","scale":{"domain":[-1,21],"nice":false,"zero":false},"axis":{"values":[0,10,20],"labelOverlap":false,"labelFontSize":7,"title":null}},
   "shape":{"field":"g","type":"nominal","scale":{"domain":["n","a","h"],"range":["circle","square","triangle-up"]},"legend":null},
   "fill":{"field":"g","type":"nominal","scale":{"domain":["n","a","h"],"range":["white","black","black"]},"legend":null}}},
 {"data":{"name":"mean"},"transform":[{"filter":"datum.p=='D'&&datum.v<=21"}],"mark":{"type":"tick","color":"black","thickness":1,"size":9},
  "encoding":{"x":{"field":"w","type":"ordinal","scale":{"domain":[0,1,5],"paddingInner":0,"paddingOuter":0.05},"axis":{"title":"Weeks after FVIII Protein Dosing","labelFontSize":7,"titleFontSize":8.2}},"xOffset":{"field":"g","type":"nominal","scale":{"domain":["n","a","h"],"paddingOuter":0.1}},"y":{"field":"v","type":"quantitative","scale":{"domain":[-1,21],"nice":false,"zero":false},"axis":{"values":[0,10,20],"labelOverlap":false,"labelFontSize":7,"title":null}}}}
]},
{"width":71,"height":24,"data":{"values":[]},"mark":"point"},
{"width":117,"height":24,"layer":[
 {"data":{"values":[{}]},"mark":{"type":"rule","color":"#888888","strokeWidth":0.8,"strokeDash":[2,2]},"encoding":{"y":{"datum":10,"type":"quantitative","scale":{"domain":[-1,21],"nice":false,"zero":false},"axis":{"values":[0,10,20],"labelOverlap":false,"labelFontSize":7,"title":null}}}},
 {"data":{"name":"pts"},"transform":[{"filter":"datum.p=='G'&&datum.v<=21"}],"mark":{"type":"point","filled":true,"stroke":"black","strokeWidth":0.8,"size":26,"opacity":1},
  "encoding":{"x":{"field":"w","type":"ordinal","scale":{"domain":[0,1,5],"paddingInner":0,"paddingOuter":0.05},"axis":{"title":"Weeks after PLC-mcoET3 IV Dosing","labelFontSize":7,"titleFontSize":8.2}},
   "xOffset":{"field":"g","type":"nominal","scale":{"domain":["n","a","h"],"paddingOuter":0.1}},
   "y":{"field":"v","type":"quantitative","scale":{"domain":[-1,21],"nice":false,"zero":false},"axis":{"values":[0,10,20],"labelOverlap":false,"labelFontSize":7,"title":null}},
   "shape":{"field":"g","type":"nominal","scale":{"domain":["n","a","h"],"range":["circle","square","triangle-up"]},"legend":null},
   "fill":{"field":"g","type":"nominal","scale":{"domain":["n","a","h"],"range":["white","black","black"]},"legend":null}}},
 {"data":{"name":"mean"},"transform":[{"filter":"datum.p=='G'&&datum.v<=21"}],"mark":{"type":"tick","color":"black","thickness":1,"size":9},
  "encoding":{"x":{"field":"w","type":"ordinal","scale":{"domain":[0,1,5],"paddingInner":0,"paddingOuter":0.05},"axis":{"title":"Weeks after PLC-mcoET3 IV Dosing","labelFontSize":7,"titleFontSize":8.2}},"xOffset":{"field":"g","type":"nominal","scale":{"domain":["n","a","h"],"paddingOuter":0.1}},"y":{"field":"v","type":"quantitative","scale":{"domain":[-1,21],"nice":false,"zero":false},"axis":{"values":[0,10,20],"labelOverlap":false,"labelFontSize":7,"title":null}}}}
]},
{"width":69,"height":24,"data":{"values":[]},"mark":"point"},
{"width":120,"height":24,"layer":[
 {"data":{"values":[{}]},"mark":{"type":"rule","color":"#888888","strokeWidth":0.8,"strokeDash":[2,2]},"encoding":{"y":{"datum":10,"type":"quantitative","scale":{"domain":[-1,21],"nice":false,"zero":false},"axis":{"values":[0,10,20],"labelOverlap":false,"labelFontSize":7,"title":null}}}},
 {"data":{"name":"pts"},"transform":[{"filter":"datum.p=='H'&&datum.v<=21"}],"mark":{"type":"point","filled":true,"stroke":"black","strokeWidth":0.8,"size":26,"opacity":1},
  "encoding":{"x":{"field":"w","type":"ordinal","scale":{"domain":[0,1,5],"paddingInner":0,"paddingOuter":0.05},"axis":{"title":"Weeks after PLC-mcoET3 IP Dosing","labelFontSize":7,"titleFontSize":8.2}},
   "xOffset":{"field":"g","type":"nominal","scale":{"domain":["n","a","h"],"paddingOuter":0.1}},
   "y":{"field":"v","type":"quantitative","scale":{"domain":[-1,21],"nice":false,"zero":false},"axis":{"values":[0,10,20],"labelOverlap":false,"labelFontSize":7,"title":null}},
   "shape":{"field":"g","type":"nominal","scale":{"domain":["n","a","h"],"range":["circle","square","triangle-up"]},"legend":null},
   "fill":{"field":"g","type":"nominal","scale":{"domain":["n","a","h"],"range":["white","black","black"]},"legend":null}}},
 {"data":{"name":"mean"},"transform":[{"filter":"datum.p=='H'&&datum.v<=21"}],"mark":{"type":"tick","color":"black","thickness":1,"size":9},
  "encoding":{"x":{"field":"w","type":"ordinal","scale":{"domain":[0,1,5],"paddingInner":0,"paddingOuter":0.05},"axis":{"title":"Weeks after PLC-mcoET3 IP Dosing","labelFontSize":7,"titleFontSize":8.2}},"xOffset":{"field":"g","type":"nominal","scale":{"domain":["n","a","h"],"paddingOuter":0.1}},"y":{"field":"v","type":"quantitative","scale":{"domain":[-1,21],"nice":false,"zero":false},"axis":{"values":[0,10,20],"labelOverlap":false,"labelFontSize":7,"title":null}}}}
]}
]}
]
}
